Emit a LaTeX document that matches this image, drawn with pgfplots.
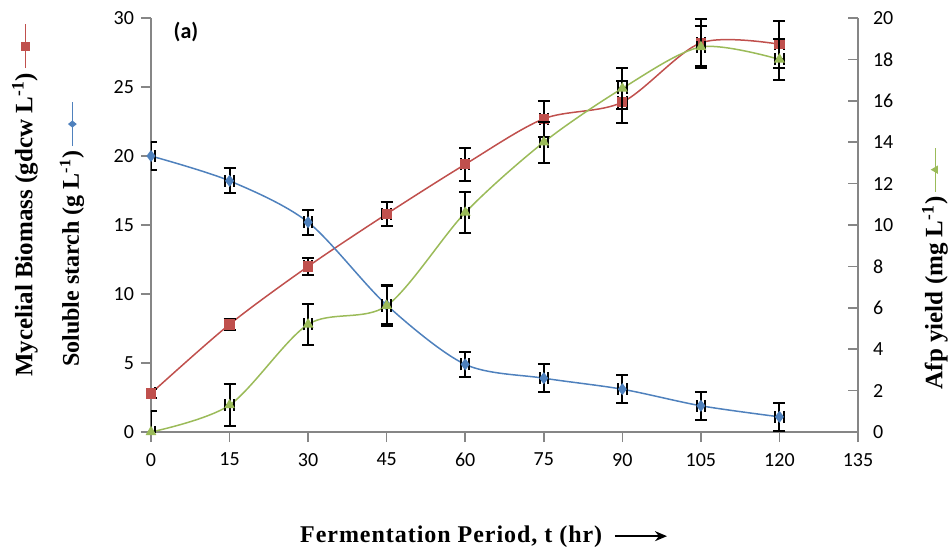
\documentclass[border=0pt]{standalone}
\usepackage{pgfplots}
\usepackage{pgfplotstable}
\pgfplotsset{compat=1.18}
\usepackage{fontspec}
\setmainfont{Liberation Serif}
\newfontfamily\calibri{Carlito}
\usetikzlibrary{arrows.meta}
\definecolor{cred}{HTML}{C0504D}
\definecolor{cblue}{HTML}{4F81BD}
\definecolor{cgreen}{HTML}{9BBB59}
\definecolor{cax}{HTML}{868686}

\pgfplotstableread{
t y ey ex
0 2.8 0.3 0.8
15 7.8 0.4 0.8
30 12.0 0.6 0.8
45 15.8 0.9 0.8
60 19.4 1.2 0.8
75 22.7 1.3 0.8
90 23.9 1.5 0.8
105 28.2 1.7 0.8
120 28.1 1.7 0.8
}\biomass
\pgfplotstableread{
t y ey ex
0 20.0 1.0 0.8
15 18.2 0.9 0.8
30 15.2 0.9 0.8
45 9.2 1.4 0.8
60 4.9 0.9 0.8
75 3.9 1.0 0.8
90 3.1 1.0 0.8
105 1.9 1.0 0.8
120 1.1 1.0 0.8
}\starch
\pgfplotstableread{
t y ey ex
0 0.0 1.0 0.8
15 1.3 1.0 0.8
30 5.2 1.0 0.8
45 6.1 1.0 0.8
60 10.6 1.0 0.8
75 14.0 1.0 0.8
90 16.6 1.0 0.8
105 18.6 1.0 0.8
120 18.0 1.0 0.8
}\afp

\newcommand{\legmark}[2]{\tikz[baseline=-0.6ex]{\draw[#1,line width=0.75pt] (0,0)--(22pt,0); #2}}

\pgfplotsset{
  common/.style={
    width=353.5pt, height=207pt, scale only axis,
    xmin=0, xmax=135,
    axis line style={cax, line width=0.8pt},
    tick style={cax, line width=0.8pt},
    major tick length=5pt,
    tick label style={font=\calibri\fontsize{10}{12}\selectfont},
    /pgf/number format/assume math mode=true,
  },
  ebars/.style={
    error bars/.cd,
      y dir=both, y explicit,
      x dir=both, x explicit,
      error bar style={black, line width=1pt},
      error mark options={black, line width=1pt, mark size=3pt, rotate=90},
  },
}

\begin{document}
\begin{tikzpicture}[x=1pt,y=1pt]
\useasboundingbox (-75.5,-63.5) rectangle (399.5,216);
\begin{axis}[common,
  at={(0,0)}, anchor=south west,
  axis x line*=bottom, axis y line*=left,
  ymin=0, ymax=30,
  xtick={0,15,...,135}, ytick={0,5,...,30},
  tick align=outside,
  xticklabel style={yshift=-2pt},
]
\addplot[cred, line width=0.75pt, smooth, tension=0.5, mark=square*, mark size=2.2pt, mark options={solid, fill=cred}, ebars]
  table[x=t, y=y, y error=ey, x error=ex] {\biomass};
\addplot[cblue, line width=0.75pt, smooth, tension=0.5, mark=diamond*, mark size=2.4pt, mark options={solid, fill=cblue}, ebars]
  table[x=t, y=y, y error=ey, x error=ex] {\starch};
\end{axis}
\begin{axis}[common,
  at={(0,0)}, anchor=south west,
  axis x line=none, axis y line*=right,
  ymin=0, ymax=20,
  ytick={0,2,...,20},
  tick align=inside,
  yticklabel style={xshift=4pt},
]
\addplot[cgreen, line width=0.75pt, smooth, tension=0.5, mark=triangle*, mark size=2.4pt, mark options={solid, fill=cgreen}, ebars]
  table[x=t, y=y, y error=ey, x error=ex] {\afp};
\end{axis}

\node[font=\calibri\bfseries\fontsize{11}{13}\selectfont] at (17.5,200) {(a)};

\node[rotate=90, font=\bfseries\fontsize{12.5}{14}\selectfont] at (-63,116)
  {Mycelial Biomass (gdcw L\textsuperscript{-1})\hspace{2pt}\legmark{cred}{\fill[cred] (11pt,0) +(-2.2pt,-2.2pt) rectangle +(2.2pt,2.2pt);}};
\node[rotate=90, font=\bfseries\fontsize{12}{14}\selectfont] at (-39.5,99)
  {Soluble starch (g L\textsuperscript{-1})\hspace{2pt}\legmark{cblue}{\fill[cblue] (11pt,0) +(0,2.2pt) -- +(1.8pt,0) -- +(0,-2.2pt) -- +(-1.8pt,0) -- cycle;}};
\node[rotate=90, font=\bfseries\fontsize{12.5}{14}\selectfont] at (392,82)
  {Afp yield (mg L\textsuperscript{-1})\hspace{2pt}\legmark{cgreen}{\fill[cgreen] (11pt,0) +(0,2.4pt) -- +(2.1pt,-1.2pt) -- +(-2.1pt,-1.2pt) -- cycle;}};

\node[font=\bfseries\fontsize{12}{14}\selectfont\addfontfeature{LetterSpace=4}] at (166.5,-52.5)
  {Fermentation Period, t (hr)\hspace{6pt}\tikz[baseline=-0.6ex]\draw[-{Stealth[length=6pt,width=5pt]}, line width=0.8pt] (0,0)--(26pt,0);};
\end{tikzpicture}
\end{document}
